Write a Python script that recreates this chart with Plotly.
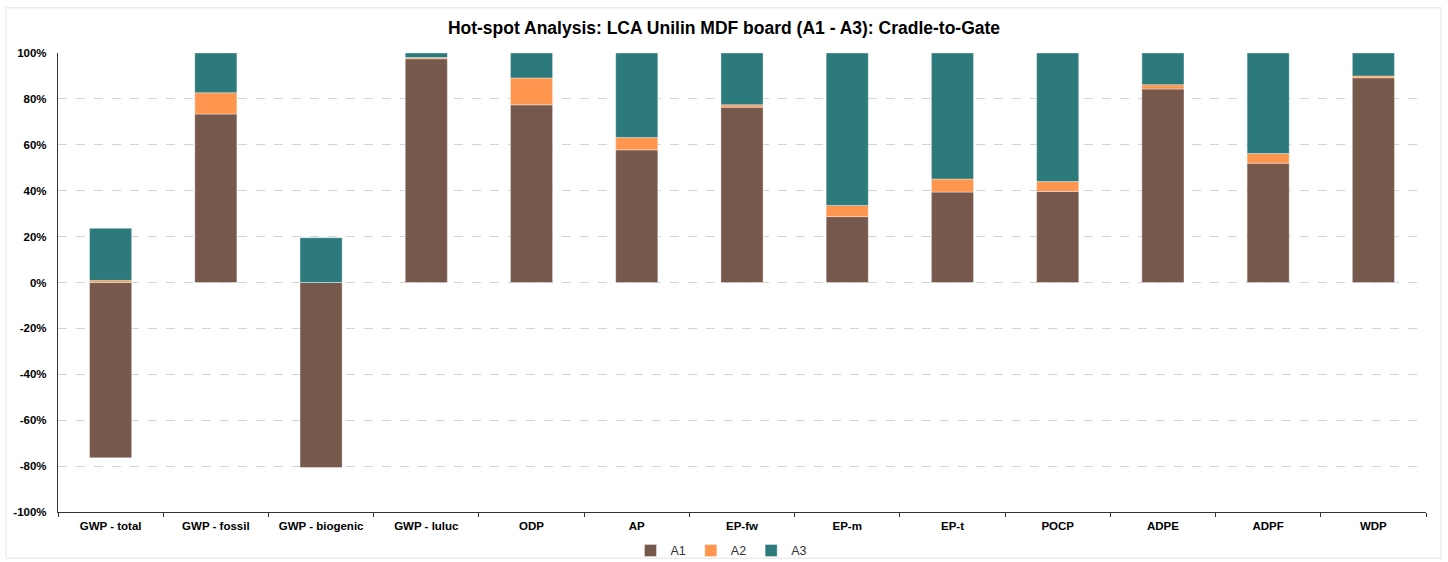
import plotly.graph_objects as go

categories = ["GWP - total", "GWP - fossil", "GWP - biogenic", "GWP - luluc", "ODP", "AP",
              "EP-fw", "EP-m", "EP-t", "POCP", "ADPE", "ADPF", "WDP"]
a1 = [-76.4, 73.4, -80.6, 97.5, 77.4, 57.8, 76.4, 28.7, 39.4, 39.7, 84.3, 52.0, 89.2]
a2 = [0.9, 9.3, 0.0, 0.5, 11.7, 5.4, 1.0, 4.9, 5.7, 4.3, 1.9, 4.2, 0.8]
a3 = [22.7, 17.3, 19.5, 2.0, 10.9, 36.8, 22.6, 66.4, 54.9, 56.0, 13.8, 43.8, 10.0]
y_ticks = [-100, -80, -60, -40, -20, 0, 20, 40, 60, 80, 100]

colors = {"A1": "#76584c", "A2": "#ff9650", "A3": "#2c7a7b"}

fig = go.Figure()
for name, vals in [("A1", a1), ("A2", a2), ("A3", a3)]:
    fig.add_trace(go.Bar(
        x=categories, y=vals, name=name,
        marker=dict(color=colors[name], line=dict(color="rgba(255,255,255,0.45)", width=0.8)),
        width=0.4,
    ))

# the page is photographed a little squashed vertically (562/578), so the figure is
# laid out 578 tall to land on the reference positions
W, H = 1448, 578
ml, mr, mt, mb = 58, 22, 52.5, 53.5
pw, ph = W - ml - mr, H - mt - mb

fig.update_layout(
    width=W, height=H,
    barmode="relative",
    paper_bgcolor="white", plot_bgcolor="white",
    margin=dict(l=ml, r=mr, t=mt, b=mb),
    font=dict(family="Liberation Sans, Arial, sans-serif", color="#000000"),
    title=dict(text="<b>Hot-spot Analysis: LCA Unilin MDF board (A1 - A3): Cradle-to-Gate</b>",
               x=0.5, xanchor="center", y=1 - 28 / H, yanchor="middle",
               font=dict(size=17.5, color="#000000")),
    legend=dict(orientation="h", x=0.485, xanchor="center", y=-0.052, yanchor="top",
                font=dict(size=12.5, color="#333333"), itemwidth=30,
                traceorder="normal", bgcolor="rgba(0,0,0,0)"),
    showlegend=True,
)

fig.update_xaxes(
    type="category", showgrid=False, showline=True, linecolor="#333333", linewidth=1.2,
    ticks="outside", tickson="boundaries", ticklen=4, tickcolor="#333333",
    ticklabelstandoff=3,
    tickfont=dict(size=11.5, color="#000000", family="Liberation Sans, Arial, sans-serif"),
    tickprefix="<b>", ticksuffix="</b>",
)
fig.update_yaxes(
    range=[-100, 100], tickvals=y_ticks, ticktext=[f"<b>{v}%</b>" for v in y_ticks],
    showgrid=True, gridcolor="#d4d4d4", griddash="dash", gridwidth=1,
    zeroline=False, showline=True, linecolor="#333333", linewidth=1.2,
    ticks="", ticklabelstandoff=8, tickfont=dict(size=11.5, color="#000000"),
)

# light frame round the whole chart
fig.add_shape(type="rect", xref="paper", yref="paper",
              x0=(6 - ml) / pw, x1=(1441 - ml) / pw,
              y0=(H - 572 - mb) / ph, y1=(H - 6 - mb) / ph,
              line=dict(color="#e3e3e3", width=1), fillcolor="rgba(0,0,0,0)", layer="below")

page_js = "document.body.style.margin='0';"
fig.write_html("out.html", config={"displayModeBar": False}, post_script=page_js)
